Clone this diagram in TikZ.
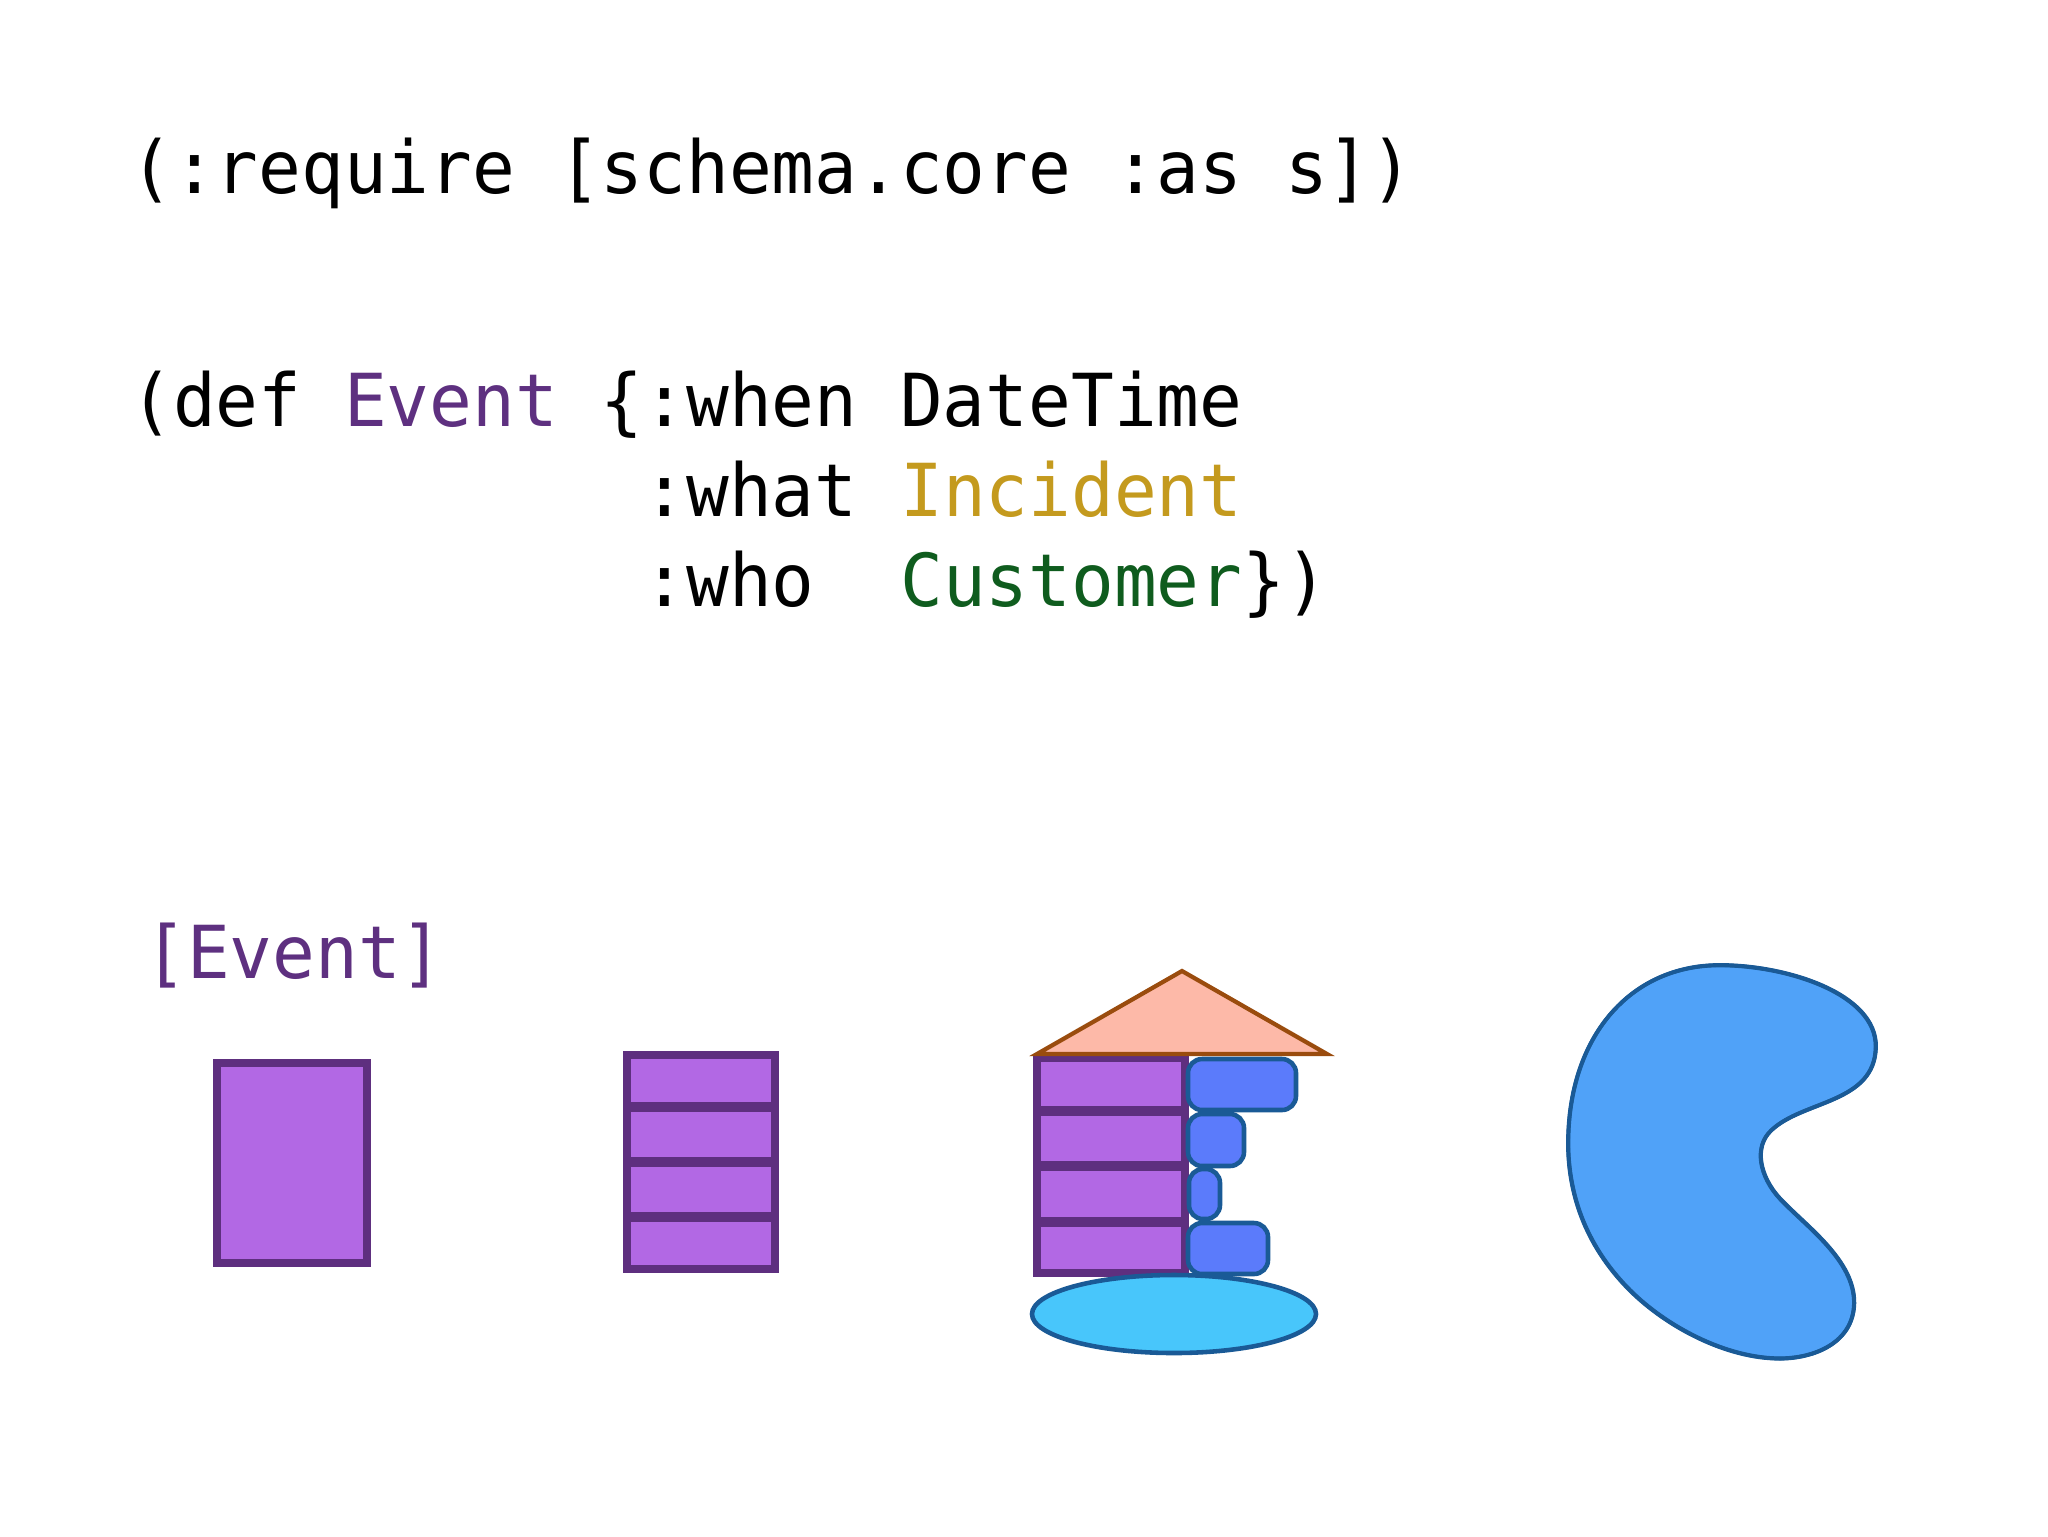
\documentclass[tikz,border=0pt]{standalone}
\usepackage{fontspec}
\setmonofont[FakeStretch=0.972]{DejaVu Sans Mono}
\definecolor{evp}{HTML}{5E3080}
\definecolor{inc}{HTML}{C49A1E}
\definecolor{cus}{HTML}{0F5C1E}
\definecolor{pfill}{HTML}{B268E4}
\definecolor{pline}{HTML}{5E2F7F}
\definecolor{roof}{HTML}{FDB9A8}
\definecolor{roofl}{HTML}{9A4C0E}
\definecolor{bfill}{HTML}{5B7BFB}
\definecolor{bline}{HTML}{1A5A96}
\definecolor{elfill}{HTML}{48C6FB}
\definecolor{blob}{HTML}{50A2F8}
\tikzset{
  code/.style={anchor=base west,inner sep=0pt,font=\fontsize{41.6}{50}\selectfont\ttfamily},
  purp/.style={draw=pline,fill=pfill,line width=4.2pt,line join=miter},
  sep/.style={draw=pline,line width=5.8pt},
  brick/.style={draw=bline,fill=bfill,line width=2.6pt,rounded corners=8pt},
  blobpath/.style={insert path={
  (540,45) .. controls (740,45) and (1010,130) .. (1008,290)
  .. controls (1005,460) and (790,450) .. (695,540)
  .. controls (640,590) and (660,680) .. (720,745)
  .. controls (800,830) and (945,930) .. (943,1060)
  .. controls (940,1180) and (820,1225) .. (720,1225)
  .. controls (560,1225) and (380,1130) .. (270,1020)
  .. controls (130,880) and (85,720) .. (85,580)
  .. controls (85,260) and (270,45) .. (540,45) -- cycle}},
}
\begin{document}
\begin{tikzpicture}[x=0.02cm,y=-0.02cm]
\useasboundingbox (0,0) rectangle (2048,1536);
\fill[white] (0,0) rectangle (2048,1536);
\node[code] (l1) at (130,193) {(:require [schema.core :as s])};
\node[code] (l2) at (130,426) {(def \textcolor{evp}{Event} \{:when DateTime};
\node[code] (l3) at (130,516) {\phantom{(def Event \{}:what \textcolor{inc}{Incident}};
\node[code] (l4) at (130,606) {\phantom{(def Event \{}:who\ \ \textcolor{cus}{Customer}\})};
\node[code,text=evp] (ev) at (144,978) {[Event]};
% single record
\draw[purp] (217,1063) rectangle (367,1263);
% stacked record
\draw[purp] (627,1055) rectangle (775,1269);
\draw[sep] (627,1107) -- (775,1107);
\draw[sep] (627,1162) -- (775,1162);
\draw[sep] (627,1217) -- (775,1217);
% stacked record with bricks
\draw[purp] (1037,1058) rectangle (1185,1273);
\draw[sep] (1037,1111) -- (1185,1111);
\draw[sep] (1037,1166) -- (1185,1166);
\draw[sep] (1037,1222) -- (1185,1222);
\draw[brick] (1188,1059) rectangle (1296,1110);
\draw[brick] (1188,1114) rectangle (1244,1166);
\draw[brick] (1189,1169) rectangle (1220,1219);
\draw[brick] (1188,1223) rectangle (1268,1274);
\draw[draw=roofl,fill=roof,line width=2.4pt,line join=miter] (1182,971) -- (1327,1054) -- (1037,1054) -- cycle;
\draw[draw=bline,fill=elfill,line width=2.6pt] (1174,1314) ellipse [x radius=142,y radius=39];
% blob
\begin{scope}[shift={(1540,950)},x=0.02cm/3,y=-0.02cm/3]
\draw[draw=bline,fill=blob,line width=2.2pt,blobpath];
\begin{scope}[shift={(-1,1)}]
\draw[draw=bline,line width=2.2pt,blobpath];
\end{scope}
\end{scope}
\end{tikzpicture}
\end{document}
